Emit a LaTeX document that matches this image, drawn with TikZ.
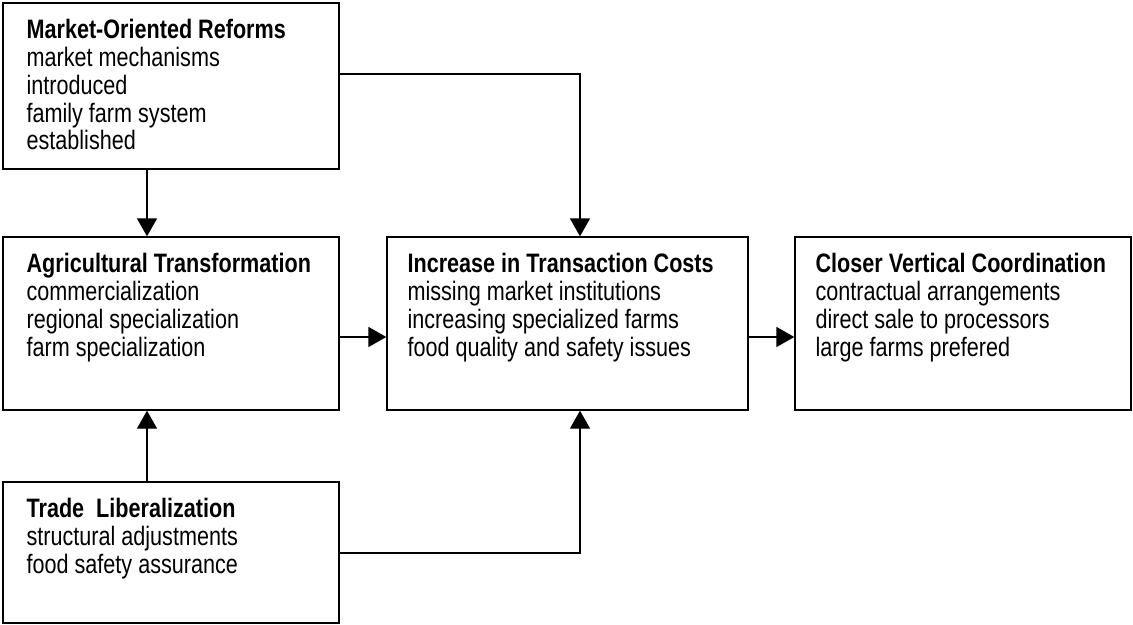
\documentclass[tikz,border=0pt]{standalone}
\usepackage{fontspec}
\setmainfont[FakeStretch=0.81]{Liberation Sans}
\usetikzlibrary{arrows.meta,fit,calc}

\tikzset{
  box/.style={draw, line width=1pt, inner sep=0pt},
  boxtext/.style={anchor=north west, inner sep=0pt, align=left,
    font=\fontsize{20}{20.8}\selectfont},
  link/.style={line width=1pt, -{Triangle[length=13.5pt,width=15pt]}},
}

\begin{document}
\begin{tikzpicture}[x=0.75pt,y=-0.75pt]
\useasboundingbox (0,0) rectangle (1133,625);

% boxes
\node[box, fit={(3,3) (339,169)}] (market) {};
\node[box, fit={(3,237) (339,410)}] (agri) {};
\node[box, fit={(3,482) (339,623)}] (trade) {};
\node[box, fit={(387,237) (748,410)}] (costs) {};
\node[box, fit={(795,237) (1131,410)}] (vert) {};

% texts
\node[boxtext] (marketTxt) at ([shift={(24,17)}]market.north west)
  {\textbf{Market-Oriented Reforms}\\market mechanisms\\introduced\\family farm system\\established};
\node[boxtext] (agriTxt) at ([shift={(24,17)}]agri.north west)
  {\textbf{Agricultural Transformation}\\commercialization\\regional specialization\\farm specialization};
\node[boxtext] (tradeTxt) at ([shift={(24,17)}]trade.north west)
  {\textbf{Trade~~Liberalization}\\structural adjustments\\food safety assurance};
\node[boxtext] (costsTxt) at ([shift={(21,17)}]costs.north west)
  {\textbf{Increase in Transaction Costs}\\missing market institutions\\increasing specialized farms\\food quality and safety issues};
\node[boxtext] (vertTxt) at ([shift={(21,17)}]vert.north west)
  {\textbf{Closer Vertical Coordination}\\contractual arrangements\\direct sale to processors\\large farms prefered};

% connectors
\coordinate (leftX) at (147,0);
\coordinate (joinX) at (580,0);
\coordinate (flowY) at (0,337);
\coordinate (topY) at (0,74);
\coordinate (lowY) at (0,553);

\draw[link] (leftX |- market.south) -- (leftX |- agri.north);
\draw[link] (leftX |- trade.north) -- (leftX |- agri.south);
\draw[link] (agri.east |- flowY) -- (costs.west |- flowY);
\draw[link] (costs.east |- flowY) -- (vert.west |- flowY);
\draw[link] (market.east |- topY) -| (joinX |- costs.north);
\draw[link] (trade.east |- lowY) -| (joinX |- costs.south);
\end{tikzpicture}
\end{document}
